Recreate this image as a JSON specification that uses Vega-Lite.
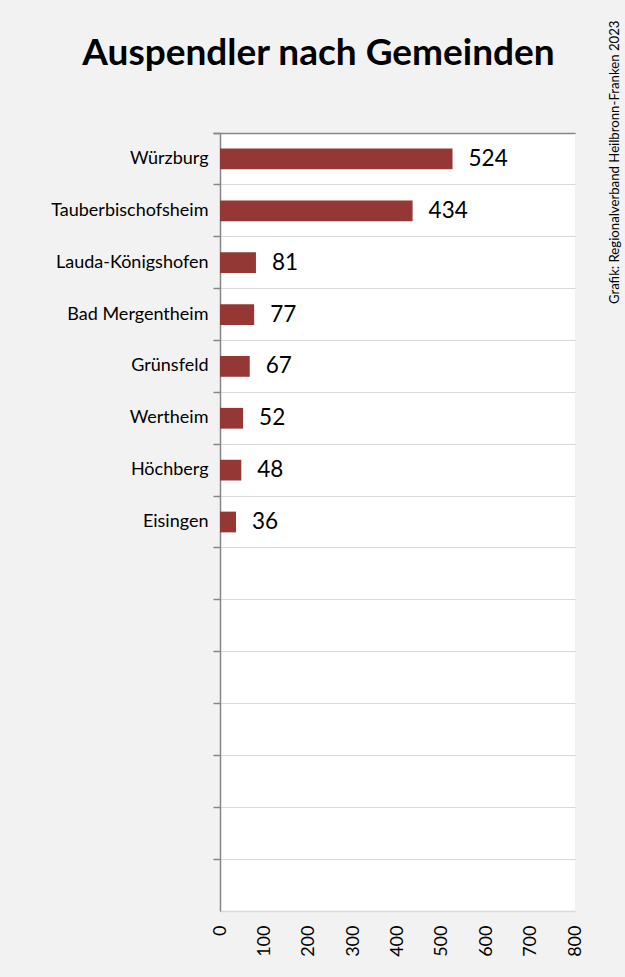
{
  "$schema": "https://vega.github.io/schema/vega-lite/v6.json",
  "width": 355,
  "height": 778,
  "autosize": "none",
  "padding": {"left": 220, "top": 133, "right": 50, "bottom": 66},
  "background": "#f2f2f2",
  "title": {"text": "Auspendler nach Gemeinden", "font": "Lato", "fontSize": 37, "fontWeight": "bold", "color": "#000000", "anchor": "middle", "frame": "group", "dx": -79, "offset": -53},
  "config": {"view": {"fill": "white", "stroke": null}},
  "data": {"values": [
    {"Gemeinde": "Würzburg", "Anzahl": 524},
    {"Gemeinde": "Tauberbischofsheim", "Anzahl": 434},
    {"Gemeinde": "Lauda-Königshofen", "Anzahl": 81},
    {"Gemeinde": "Bad Mergentheim", "Anzahl": 77},
    {"Gemeinde": "Grünsfeld", "Anzahl": 67},
    {"Gemeinde": "Wertheim", "Anzahl": 52},
    {"Gemeinde": "Höchberg", "Anzahl": 48},
    {"Gemeinde": "Eisingen", "Anzahl": 36}
  ]},
  "layer": [
    {
      "mark": {"type": "bar", "color": "#953735", "height": {"band": 0.4}},
      "encoding": {
        "y": {"field": "Gemeinde", "type": "nominal", "sort": null,
          "scale": {"domain": ["Würzburg", "Tauberbischofsheim", "Lauda-Königshofen", "Bad Mergentheim", "Grünsfeld", "Wertheim", "Höchberg", "Eisingen", "_1", "_2", "_3", "_4", "_5", "_6", "_7"], "paddingInner": 0, "paddingOuter": 0},
          "axis": {"title": null, "bandPosition": 0, "tickExtra": true, "grid": true, "gridColor": "#d9d9d9", "gridWidth": 1, "domainColor": "#868686", "domainWidth": 1.5, "tickColor": "#868686", "tickWidth": 1.5, "tickSize": 7, "labelFont": "Lato", "labelFontSize": 18, "labelColor": "#000000", "labelPadding": 5, "labelExpr": "substring(datum.value,0,1)=='_' ? '' : datum.value"}},
        "x": {"field": "Anzahl", "type": "quantitative",
          "scale": {"domain": [0, 800]},
          "axis": {"title": null, "values": [0, 100, 200, 300, 400, 500, 600, 700, 800], "grid": false, "ticks": false, "domainColor": "#d9d9d9", "domainWidth": 1.5, "labelAngle": 270, "labelAlign": "right", "labelBaseline": "middle", "labelFont": "Lato", "labelFontSize": 18, "labelColor": "#000000", "labelPadding": 14}}
      }
    },
    {
      "mark": {"type": "text", "align": "left", "baseline": "middle", "dx": 16, "font": "Lato", "fontSize": 22.5, "color": "#000000"},
      "encoding": {
        "y": {"field": "Gemeinde", "type": "nominal", "sort": null,
          "axis": {"orient": "right", "labels": false, "ticks": false, "domain": false, "grid": false, "title": "Grafik: Regionalverband Heilbronn-Franken 2023", "titleFont": "Lato", "titleFontSize": 13.2, "titleFontWeight": "normal", "titleColor": "#000000", "titleAngle": 270, "titleAlign": "right", "titleBaseline": "middle", "titleX": 39, "titleY": -113}},
        "x": {"field": "Anzahl", "type": "quantitative",
          "axis": {"orient": "top", "labels": false, "ticks": false, "grid": false, "title": null, "domainColor": "#868686", "domainWidth": 1.5}},
        "text": {"field": "Anzahl", "type": "quantitative"}
      }
    }
  ],
  "resolve": {"axis": {"x": "independent", "y": "independent"}}
}
